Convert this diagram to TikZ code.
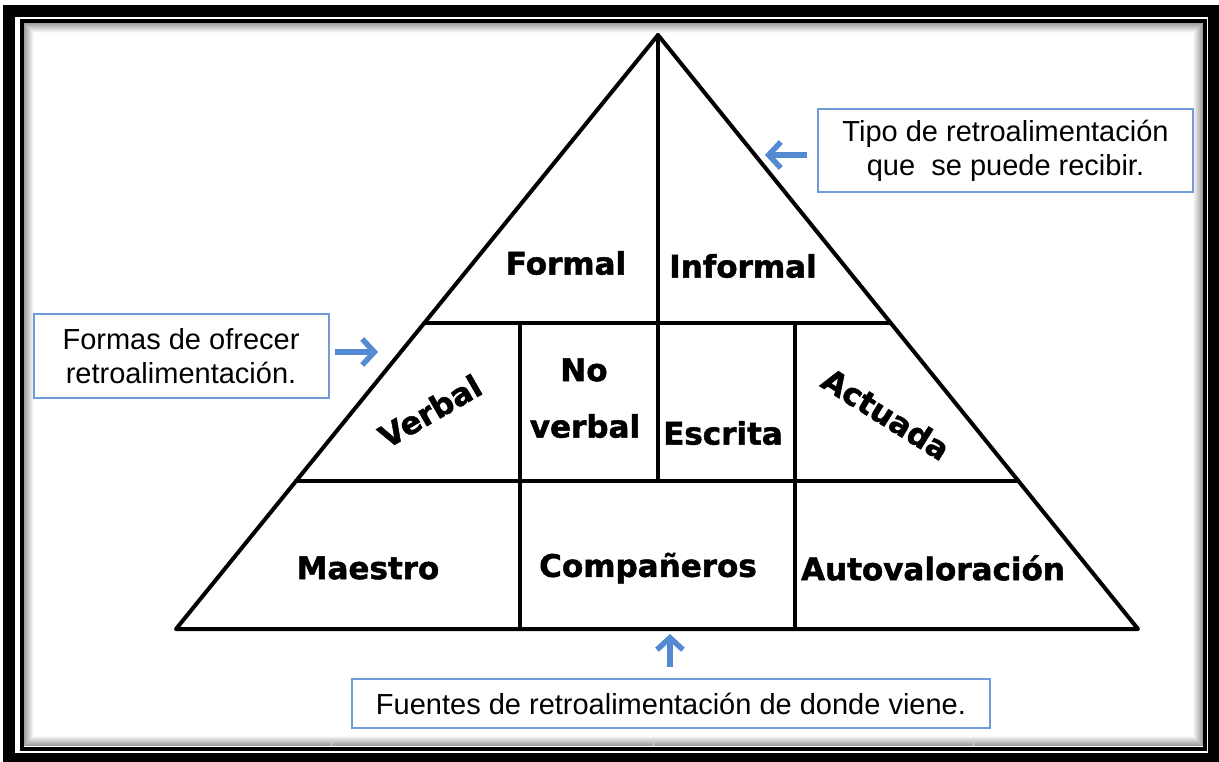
\documentclass[tikz,border=0pt]{standalone}
\usepackage{fontspec}
\setmainfont{Liberation Sans}
\newfontfamily\pyrfont{DejaVu Sans}[BoldFeatures={FakeBold=1.6}]
\usepackage{tikz}
\usetikzlibrary{calc}
\usetikzlibrary{arrows.meta}
\usepackage{xcolor}

\definecolor{boxblue}{RGB}{112,155,216}
\definecolor{arrowblue}{RGB}{84,138,210}

\tikzset{
  pyrline/.style={black, line width=4pt, line cap=round, line join=round},
  pyrlabel/.style={font=\pyrfont\bfseries\fontsize{31}{36}\selectfont, inner sep=0pt},
  callout/.style={draw=boxblue, line width=2pt, fill=white, align=center, inner sep=0pt,
    font=\fontsize{29}{34}\selectfont},
  pointer/.style={arrowblue, line width=5.5pt, -{Straight Barb[length=12pt,width=26pt]}}
}

\begin{document}
\begin{tikzpicture}[x=1pt,y=-1pt]

\useasboundingbox (0,0) rectangle (1219,761);
\fill[white] (0,0) rectangle (1219,761);

% frame
{
\draw[black, line width=12pt] (9,10.5) rectangle (1214,758.5);
\draw[black, line width=4pt] (21.5,21) rectangle (1205,748.5);

\foreach \i in {1,...,10}
{
\pgfmathsetmacro\op{0.42-0.04*\i}
\draw[black, line width=1pt, opacity=\op] (23+\i,22.5+\i) rectangle (1203.5-\i,746.5-\i);
}

\draw[gray!25, line width=1pt] (35,738)--++(1160,0);
\draw[gray!35, line width=1pt] (331,738)--++(0,8);
\draw[gray!35, line width=1pt] (653,738)--++(0,8);
\draw[gray!35, line width=1pt] (973,738)--++(0,8);
}

% pyramid
\coordinate (top) at (658,35);
\coordinate (left) at (176,629);
\coordinate (right) at (1138,629);

\coordinate (row1l) at ($(top)!0.485!(left)$);
\coordinate (row1r) at ($(top)!0.485!(right)$);
\coordinate (row2l) at ($(top)!0.751!(left)$);
\coordinate (row2r) at ($(top)!0.751!(right)$);

\draw[pyrline] (top)--(left)--(right)--cycle;
\draw[pyrline] (row1l)--(row1r);
\draw[pyrline] (row2l)--(row2r);

% black lines
{
\draw[pyrline] (top)--(top |- row2l);
\draw[pyrline] (519.5,323)--(519.5,629);
\draw[pyrline] (795,323)--(795,629);
}

\node[pyrlabel] (formal) at (566,263) {Formal};
\node[pyrlabel] (informal) at (743,266) {Informal};

\node[pyrlabel, rotate=30] (verbal) at (430,411) {Verbal};
\node[pyrlabel] (no) at (584,370) {No};
\node[pyrlabel] (noverbal) at (585,426) {verbal};
\node[pyrlabel] (escrita) at (723,433) {Escrita};
\node[pyrlabel, rotate=-32] (actuada) at (886,414) {Actuada};

\node[pyrlabel] (maestro) at (368,568) {Maestro};
\node[pyrlabel] (companeros) at (648,568) {Compañeros};
\node[pyrlabel] (autoval) at (933,568) {Autovaloración};

% callouts
\node[callout, minimum width=375pt, minimum height=83pt] (tipo) at (1005.5,150.5)
{Tipo de retroalimentación\\que\ \ se puede recibir.};
\node[callout, minimum width=295pt, minimum height=84pt] (formas) at (181,356)
{Formas de ofrecer\\retroalimentación.};
\node[callout, minimum width=638pt, minimum height=49pt] (fuentes) at (671,703.5)
{Fuentes de retroalimentación de donde viene.};

\coordinate (tipotip) at (765,155);
\coordinate (formastip) at (378,352);
\coordinate (fuentestip) at (670,634);

\draw[pointer, shorten <=10pt] (tipo.west |- tipotip)--(tipotip);
\draw[pointer, shorten <=5pt] (formas.east |- formastip)--(formastip);
\draw[pointer, shorten <=11pt] (fuentestip |- fuentes.north)--(fuentestip);

\end{tikzpicture}
\end{document}
